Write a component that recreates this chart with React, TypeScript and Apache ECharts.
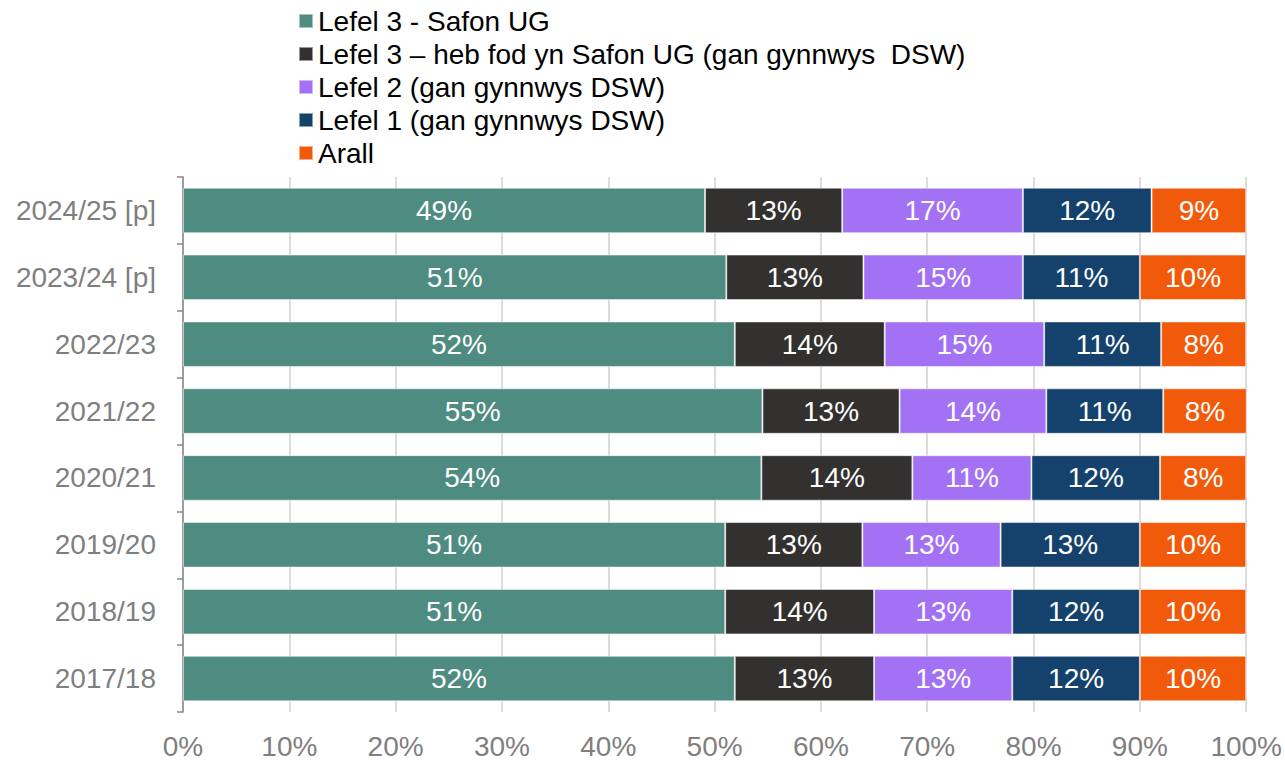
import React, { useEffect, useRef } from "react";
import * as echarts from "echarts";

const categories = ["2024/25 [p]", "2023/24 [p]", "2022/23", "2021/22", "2020/21", "2019/20", "2018/19", "2017/18"];
const seriesNames = [
  "Lefel 3 - Safon UG",
  "Lefel 3 – heb fod yn Safon UG (gan gynnwys  DSW)",
  "Lefel 2 (gan gynnwys DSW)",
  "Lefel 1 (gan gynnwys DSW)",
  "Arall",
];
const level3AS = [49.1, 51.1, 51.9, 54.5, 54.4, 51.0, 51.0, 51.9];
const level3Other = [12.9, 12.9, 14.1, 12.9, 14.2, 12.9, 14.0, 13.1];
const level2 = [17.0, 15.0, 15.0, 13.8, 11.2, 13.0, 13.0, 13.0];
const level1 = [12.1, 11.0, 11.0, 11.0, 12.1, 13.1, 12.0, 12.0];
const other = [8.9, 10.0, 8.0, 7.9, 8.1, 10.0, 10.0, 10.0];
const xTicks = [0, 10, 20, 30, 40, 50, 60, 70, 80, 90, 100];
const colors = ["#4e8b80", "#333130", "#a371f3", "#15426c", "#f15a0a"];

export default function App() {
  const ref = useRef<HTMLDivElement>(null);
  useEffect(() => {
    const chart = echarts.init(ref.current!, null, { renderer: "svg" });
    const font = "'Liberation Sans', Arial, sans-serif";
    const allData = [level3AS, level3Other, level2, level1, other];
    chart.setOption({
      animation: false,
      textStyle: { fontFamily: font },
      legend: {
        orient: "vertical",
        left: 293,
        top: 2,
        itemWidth: 14,
        itemHeight: 14,
        itemGap: 5,
        icon: "rect",
        data: seriesNames,
        textStyle: { fontSize: 28, color: "#000", fontFamily: font, lineHeight: 28 },
      },
      grid: { left: 183, right: 36, top: 177, bottom: 48, containLabel: false },
      xAxis: {
        type: "value",
        min: xTicks[0],
        max: xTicks[xTicks.length - 1],
        interval: 10,
        axisLine: { show: false },
        axisTick: { show: false },
        splitLine: { show: true, lineStyle: { color: "#d0d0d0", width: 1.5 } },
        axisLabel: { formatter: (v: number) => v + "%", fontSize: 28, color: "#7f7f7f", margin: 20, fontFamily: font },
      },
      yAxis: {
        type: "category",
        data: categories,
        inverse: true,
        axisLine: { show: true, lineStyle: { color: "#898989", width: 1.5 } },
        axisTick: { show: true, length: 6, lineStyle: { color: "#898989", width: 1.5 } },
        axisLabel: { fontSize: 28, color: "#7f7f7f", margin: 27, fontFamily: font },
      },
      series: seriesNames.map((name, i) => ({
        name,
        type: "bar",
        stack: "total",
        barCategoryGap: "32%",
        data: allData[i],
        itemStyle: { color: colors[i], borderColor: "rgba(255,255,255,0.5)", borderWidth: 1 },
        label: {
          show: true,
          position: "inside",
          color: "#fff",
          fontSize: 28,
          fontFamily: font,
          formatter: (p: any) => Math.round(p.value) + "%",
        },
      })),
    });
    return () => chart.dispose();
  }, []);
  return <div ref={ref} style={{ width: 1285, height: 760, position: "absolute", left: 0, top: 0 }} />;
}
